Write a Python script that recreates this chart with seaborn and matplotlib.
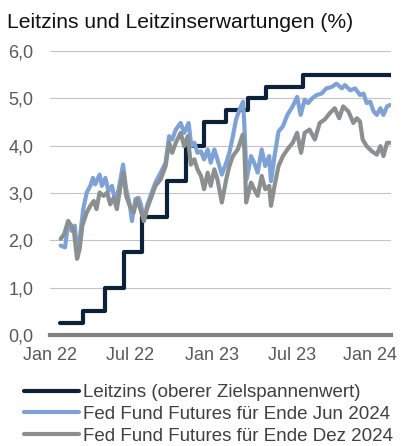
import matplotlib
matplotlib.use("Agg")
import matplotlib.pyplot as plt
import seaborn as sns
import pandas as pd

# ---- data ----
leitzins_dates = ["2022-01-23", "2022-03-17", "2022-05-05", "2022-06-16", "2022-07-28",
                  "2022-09-22", "2022-11-03", "2022-12-15", "2023-02-02", "2023-03-23",
                  "2023-05-04", "2023-07-27", "2024-02-09"]
leitzins_values = [0.25, 0.50, 1.00, 1.75, 2.50, 3.25, 4.00, 4.50, 4.75, 5.00, 5.25, 5.50, 5.50]

jun24_dates = ["2022-01-25", "2022-02-04", "2022-02-11", "2022-02-19", "2022-02-26", "2022-03-04",
               "2022-03-10", "2022-03-17", "2022-03-25", "2022-04-02", "2022-04-08", "2022-04-13",
               "2022-04-23", "2022-04-28", "2022-05-06", "2022-05-13", "2022-05-21", "2022-05-28",
               "2022-06-05", "2022-06-15", "2022-06-22", "2022-06-30", "2022-07-05", "2022-07-13",
               "2022-07-20", "2022-07-26", "2022-08-01", "2022-08-08", "2022-08-16", "2022-08-27",
               "2022-09-08", "2022-09-19", "2022-09-27", "2022-10-04", "2022-10-12", "2022-10-23",
               "2022-10-31", "2022-11-10", "2022-11-16", "2022-11-23", "2022-11-30", "2022-12-08",
               "2022-12-15", "2022-12-23", "2022-12-30", "2023-01-07", "2023-01-14", "2023-01-24",
               "2023-02-03", "2023-02-10", "2023-02-18", "2023-02-25", "2023-03-05", "2023-03-13",
               "2023-03-16", "2023-03-21", "2023-03-31", "2023-04-07", "2023-04-15", "2023-04-24",
               "2023-05-02", "2023-05-11", "2023-05-15", "2023-05-23", "2023-06-01", "2023-06-11",
               "2023-06-21", "2023-07-03", "2023-07-13", "2023-07-21", "2023-07-30", "2023-08-07",
               "2023-08-16", "2023-08-26", "2023-09-06", "2023-09-17", "2023-09-29", "2023-10-10",
               "2023-10-22", "2023-10-29", "2023-11-10", "2023-11-21", "2023-12-02", "2023-12-10",
               "2023-12-17", "2023-12-25", "2024-01-02", "2024-01-09", "2024-01-17", "2024-01-24",
               "2024-02-01", "2024-02-08"]
jun24_values = [1.89, 1.85, 2.38, 2.20, 2.31, 1.64, 2.10, 2.66, 3.01, 3.15, 3.32, 3.18,
                3.39, 3.15, 3.32, 3.04, 3.15, 2.83, 3.08, 3.60, 3.08, 2.76, 2.41, 2.87,
                2.90, 2.73, 2.41, 2.73, 2.94, 3.22, 3.43, 3.64, 4.20, 4.13, 4.34, 4.48,
                4.27, 4.48, 3.99, 4.06, 3.85, 3.88, 3.71, 3.92, 3.64, 3.92, 3.71, 3.39,
                3.64, 3.85, 4.20, 4.55, 4.76, 4.93, 4.41, 3.29, 3.78, 3.64, 3.43, 3.92,
                3.57, 3.78, 3.25, 3.78, 4.30, 4.41, 4.65, 4.83, 5.03, 4.65, 4.97, 4.90,
                5.00, 5.07, 5.10, 5.21, 5.24, 5.31, 5.21, 5.28, 5.17, 5.21, 5.07, 5.10,
                4.90, 4.93, 4.72, 4.65, 4.79, 4.65, 4.83, 4.86]

dez24_dates = ["2022-01-25", "2022-02-02", "2022-02-11", "2022-02-18", "2022-02-24", "2022-03-03",
               "2022-03-09", "2022-03-15", "2022-03-25", "2022-04-02", "2022-04-10", "2022-04-16",
               "2022-04-23", "2022-05-02", "2022-05-10", "2022-05-17", "2022-05-25", "2022-06-01",
               "2022-06-08", "2022-06-16", "2022-06-22", "2022-06-30", "2022-07-09", "2022-07-16",
               "2022-07-24", "2022-08-01", "2022-08-08", "2022-08-16", "2022-08-27", "2022-09-08",
               "2022-09-19", "2022-09-27", "2022-10-04", "2022-10-12", "2022-10-23", "2022-10-31",
               "2022-11-08", "2022-11-15", "2022-11-23", "2022-11-30", "2022-12-08", "2022-12-15",
               "2022-12-23", "2022-12-30", "2023-01-07", "2023-01-14", "2023-01-24", "2023-02-03",
               "2023-02-10", "2023-02-18", "2023-03-01", "2023-03-12", "2023-03-16", "2023-03-20",
               "2023-03-31", "2023-04-07", "2023-04-15", "2023-04-24", "2023-05-02", "2023-05-11",
               "2023-05-15", "2023-05-23", "2023-06-01", "2023-06-11", "2023-06-21", "2023-07-03",
               "2023-07-13", "2023-07-22", "2023-07-30", "2023-08-10", "2023-08-22", "2023-09-02",
               "2023-09-13", "2023-09-25", "2023-10-06", "2023-10-16", "2023-10-25", "2023-11-06",
               "2023-11-17", "2023-11-25", "2023-12-02", "2023-12-08", "2023-12-17", "2023-12-29",
               "2024-01-09", "2024-01-17", "2024-01-24", "2024-02-01", "2024-02-08"]
dez24_values = [2.03, 2.13, 2.41, 2.31, 2.20, 1.61, 1.82, 2.31, 2.59, 2.73, 2.83, 2.66,
                3.01, 2.94, 3.01, 2.76, 2.90, 2.66, 3.08, 3.43, 2.94, 2.73, 2.59, 2.87,
                2.66, 2.41, 2.66, 2.87, 3.15, 3.29, 3.57, 4.06, 3.85, 4.06, 4.27, 3.99,
                4.20, 3.60, 3.71, 3.50, 3.36, 3.08, 3.43, 3.15, 3.50, 3.29, 2.80, 3.29,
                3.57, 3.78, 3.92, 4.23, 3.92, 2.80, 3.22, 3.08, 2.94, 3.36, 3.08, 3.15,
                2.73, 3.15, 3.57, 3.78, 3.92, 4.06, 4.27, 3.85, 4.27, 4.34, 4.13, 4.48,
                4.55, 4.69, 4.79, 4.58, 4.83, 4.72, 4.48, 4.58, 4.51, 4.13, 3.99, 3.88,
                3.81, 3.99, 3.78, 4.06, 4.06]

series_labels = ["Leitzins (oberer Zielspannenwert)",
                 "Fed Fund Futures für Ende Jun 2024",
                 "Fed Fund Futures für Ende Dez 2024"]
y_ticks = [0, 1, 2, 3, 4, 5, 6]
y_ticklabels = ["0,0", "1,0", "2,0", "3,0", "4,0", "5,0", "6,0"]
x_tick_dates = ["2022-01-01", "2022-07-01", "2023-01-01", "2023-07-01", "2023-12-25"]
x_ticklabels = ["Jan 22", "Jul 22", "Jan 23", "Jul 23", "Jan 24"]
title = "Leitzins und Leitzinserwartungen (%)"

# ---- style ----
sns.set_style("white")
plt.rcParams["font.family"] = ["Liberation Sans", "DejaVu Sans"]

C_NAVY = "#0b2239"
C_BLUE = "#7fa2d6"
C_GRAY = "#8a8f90"

df_l = pd.DataFrame({"date": pd.to_datetime(leitzins_dates), "v": leitzins_values})
df_j = pd.DataFrame({"date": pd.to_datetime(jun24_dates), "v": jun24_values})
df_d = pd.DataFrame({"date": pd.to_datetime(dez24_dates), "v": dez24_values})

fig = plt.figure(figsize=(4.06, 4.46), dpi=100)
ax = fig.add_axes([50 / 406, 1 - 335 / 446, 341 / 406, 284 / 446])

sns.lineplot(data=df_l, x="date", y="v", ax=ax, color=C_NAVY, lw=3.0,
             drawstyle="steps-post", estimator=None, sort=False,
             label=series_labels[0], zorder=3)
sns.lineplot(data=df_j, x="date", y="v", ax=ax, color=C_BLUE, lw=3.0,
             estimator=None, sort=False, label=series_labels[1], zorder=4)
sns.lineplot(data=df_d, x="date", y="v", ax=ax, color=C_GRAY, lw=3.0,
             estimator=None, sort=False, label=series_labels[2], zorder=5)

ax.set_ylim(0, 6)
ax.set_xlim(pd.Timestamp("2022-01-01"), pd.Timestamp("2024-02-10"))
ax.set_yticks(y_ticks)
ax.set_yticklabels(y_ticklabels)
ax.set_xticks(pd.to_datetime(x_tick_dates))
ax.set_xticklabels(x_ticklabels)
ax.set_xlabel("")
ax.set_ylabel("")
ax.tick_params(axis="both", length=0, labelsize=13, colors="#595959")
ax.tick_params(axis="y", pad=12)
ax.tick_params(axis="x", pad=9)

ax.grid(axis="y", color="#c4c4c4", lw=0.8)
ax.grid(axis="x", visible=False)
for s in ["left", "right", "top"]:
    ax.spines[s].set_visible(False)
ax.spines["bottom"].set_color("#808080")
ax.spines["bottom"].set_linewidth(3.0)
ax.spines["bottom"].set_zorder(2)

handles, labels = ax.get_legend_handles_labels()
ax.get_legend().remove()
leg = fig.legend(handles, labels, loc="upper left",
                 bbox_to_anchor=(24 / 406, 1 - 384 / 446),
                 frameon=False, fontsize=13.5, handlelength=2.95,
                 handletextpad=0.2, labelspacing=0.25, borderpad=0,
                 borderaxespad=0)
for t in leg.get_texts():
    t.set_color("#404040")
for h in leg.get_lines():
    h.set_linewidth(3.0)

fig.text(7 / 406, 1 - 28 / 446, title, fontsize=15.2, color="#111111",
         ha="left", va="baseline")

fig.savefig("out.png", dpi=100)
